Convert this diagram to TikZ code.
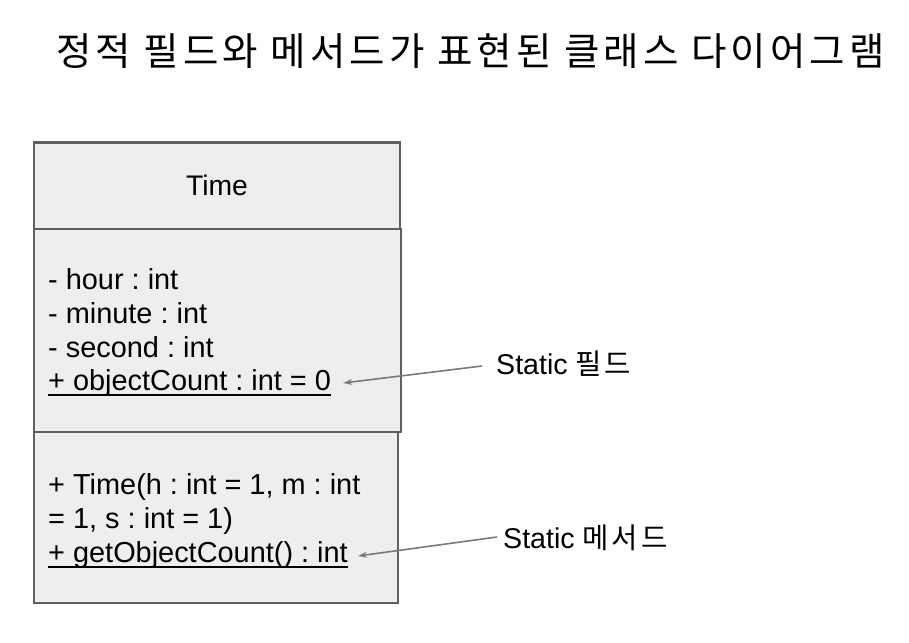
\documentclass[tikz,border=0pt]{standalone}
\usepackage{fontspec}
\setmainfont{Liberation Sans}
\newfontfamily\kr{Noto Sans CJK KR}[LetterSpace=10.5]
\usetikzlibrary{arrows.meta}
\definecolor{boxfill}{HTML}{EEEEEE}
\definecolor{boxline}{HTML}{5F5F5F}
\definecolor{arrcol}{HTML}{7A7A7A}
\begin{document}
\frenchspacing
\begin{tikzpicture}[x=1pt,y=-1pt,
  compart/.style={draw=boxline,fill=boxfill,line width=2pt},
  txt/.style={inner sep=0pt,anchor=base west,font=\frenchspacing\fontsize{28.9}{34}\selectfont},
  lbl/.style={inner sep=0pt,anchor=base west,font=\fontsize{28.6}{34}\selectfont},
  ul/.style={line width=2.8pt,black},
  arr/.style={draw=arrcol,line width=1.6pt,-{Stealth[length=9pt,width=6pt]}}]
\useasboundingbox (0,0) rectangle (909,642);
% title
\node[inner sep=0pt,anchor=base west,font=\kr\fontsize{38.5}{44}\selectfont] (title) at (56,66) {정적 필드와 메서드가 표현된 클래스 다이어그램};
% compartments
\path[compart] (34,142) rectangle (400,229);
\path[compart] (34,229) rectangle (401,432);
\path[compart] (34,432) rectangle (398,603);
\draw[boxline,line width=3pt] (33,142) -- (400,142);
% class name
\node[inner sep=0pt,anchor=base,font=\fontsize{28.3}{34}\selectfont] (cname) at (217,195) {Time};
% attributes
\node[txt] (a1) at (48,289) {- hour : int};
\node[txt] (a2) at (48,323) {- minute : int};
\node[txt] (a3) at (48,357) {- second : int};
\node[txt] (a4) at (48,390) {+ objectCount : int = 0};
\draw[ul] ([yshift=-5pt]a4.base west) -- ([yshift=-5pt]a4.base east);
% methods
\node[txt] (m1) at (48,494) {+ Time(h : int = 1, m : int};
\node[txt] (m2) at (48,528) {= 1, s : int = 1)};
\node[txt] (m3) at (48,562) {+ getObjectCount() : int};
\draw[ul] ([yshift=-5pt]m3.base west) -- ([yshift=-5pt]m3.base east);
% labels
\node[lbl] (sf) at (496,374) {Static {\kr 필드}};
\node[lbl] (sm) at (503,548) {Static {\kr 메서드}};
% arrows
\draw[arr] ([xshift=-14pt,yshift=8pt]sf.base west) -- ([xshift=12pt,yshift=7pt]a4.base east);
\draw[arr] ([xshift=-6pt,yshift=11pt]sm.base west) -- ([xshift=10pt,yshift=6pt]m3.base east);
\end{tikzpicture}
\end{document}
